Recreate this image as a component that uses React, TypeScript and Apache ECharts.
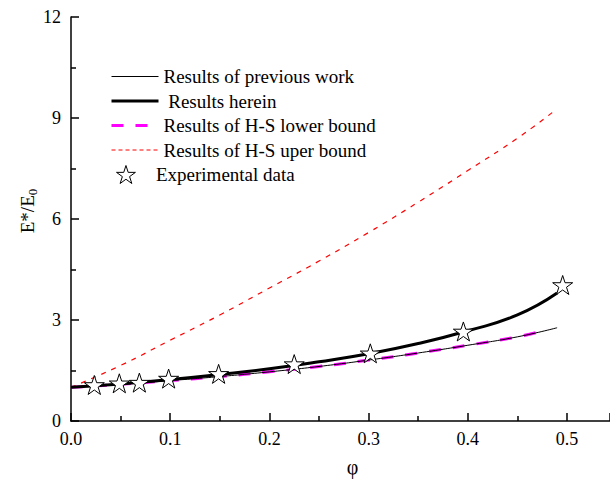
import React, { useEffect, useRef } from "react";
import * as echarts from "echarts";

// ---- data ----
const phiGrid = [0, 0.05, 0.1, 0.15, 0.2, 0.25, 0.3, 0.35, 0.4, 0.45, 0.49];
const previousWork = [1.0, 1.09, 1.2, 1.32, 1.46, 1.62, 1.81, 2.02, 2.25, 2.5, 2.77];
const herein = [1.0, 1.1, 1.23, 1.38, 1.55, 1.76, 2.0, 2.3, 2.68, 3.15, 3.8];

const phiLower = [0, 0.05, 0.1, 0.15, 0.2, 0.25, 0.3, 0.35, 0.4, 0.45, 0.48];
const lowerBound = [1.0, 1.09, 1.2, 1.32, 1.46, 1.62, 1.81, 2.02, 2.25, 2.5, 2.71];

const phiUpper = [0, 0.05, 0.1, 0.15, 0.2, 0.25, 0.3, 0.35, 0.4, 0.45, 0.485];
const upperBound = [1.0, 1.65, 2.4, 3.15, 3.95, 4.75, 5.6, 6.5, 7.44, 8.4, 9.16];

const expPhi = [0.0235, 0.0487, 0.0689, 0.0984, 0.1488, 0.225, 0.3017, 0.3955, 0.4956];
const expE = [1.07, 1.12, 1.14, 1.26, 1.4, 1.69, 2.01, 2.66, 4.04];

const seriesNames = [
  "Results of previous work",
  " Results herein",
  "Results of H-S lower bound",
  "Results of H-S uper bound",
  "Experimental data",
];

const STAR =
  "path://M50,0 L61.2,34.5 L97.6,34.5 L68.2,55.9 L79.4,90.5 L50,69.1 L20.6,90.5 L31.8,55.9 L2.4,34.5 L38.8,34.5 Z";

const FONT = "'Liberation Serif', 'Times New Roman', serif";

const zip = (xs: number[], ys: number[]) => xs.map((x, i) => [x, ys[i]]);

export default function App() {
  const ref = useRef<HTMLDivElement>(null);

  useEffect(() => {
    document.body.style.margin = "0";
    if (!ref.current) return;
    const chart = echarts.init(ref.current, undefined, { renderer: "svg" });
    chart.setOption({
      animation: false,
      backgroundColor: "#ffffff",
      textStyle: { fontFamily: FONT, color: "#000" },
      grid: { left: 71, top: 17, right: 0, bottom: 61, containLabel: false },
      legend: [
        {
          data: [
            { name: seriesNames[0], lineStyle: { color: "#000", width: 1 } },
            { name: seriesNames[1], lineStyle: { color: "#000", width: 3 } },
            { name: seriesNames[2], lineStyle: { color: "#ff00ff", width: 3, type: [12, 12] } },
            { name: seriesNames[3], lineStyle: { color: "#ff0000", width: 1, type: [4, 3] } },
          ],
          orient: "vertical",
          left: 110,
          top: 67,
          padding: 0,
          itemWidth: 47,
          itemHeight: 14,
          itemGap: 5.5,
          itemStyle: { opacity: 0 },
          textStyle: { fontFamily: FONT, fontSize: 19, color: "#000" },
          selectedMode: false,
        },
        {
          data: [seriesNames[4]],
          orient: "vertical",
          left: 116,
          top: 165,
          padding: 0,
          itemWidth: 24,
          itemHeight: 18,
          itemStyle: { color: "#fff", borderColor: "#000", borderWidth: 1, opacity: 1 },
          textStyle: { fontFamily: FONT, fontSize: 19, color: "#000", padding: [0, 0, 0, 13] },
          selectedMode: false,
        },
      ],
      graphic: [
        {
          type: "text",
          x: 27,
          y: 211,
          rotation: Math.PI / 2,
          style: {
            text: "{a|E*/E}{s|0}",
            align: "center",
            verticalAlign: "middle",
            fill: "#000",
            rich: {
              a: { fontFamily: FONT, fontSize: 19, fill: "#000" },
              s: { fontFamily: FONT, fontSize: 13, fill: "#000", verticalAlign: "bottom", padding: [10, 0, 0, 0] },
            },
          },
        },
      ],
      xAxis: {
        type: "value",
        min: 0,
        max: 0.5433,
        interval: 0.1,
        name: "\u03c6",
        nameLocation: "middle",
        nameGap: 36,
        nameTextStyle: { fontFamily: FONT, fontSize: 20, color: "#000", padding: [0, 0, 0, 24] },
        axisLine: { show: true, lineStyle: { color: "#000", width: 1.5 } },
        axisTick: { show: true, inside: true, length: 8, lineStyle: { color: "#000", width: 1.5 } },
        minorTick: { show: true, splitNumber: 2, length: 5, lineStyle: { color: "#000", width: 1.5 } },
        axisLabel: {
          fontFamily: FONT,
          fontSize: 18,
          color: "#000",
          margin: 9,
          showMaxLabel: false,
          formatter: (v: number) => v.toFixed(1),
        },
        splitLine: { show: false },
      },
      yAxis: {
        type: "value",
        min: 0,
        max: 12,
        interval: 3,
        axisLine: { show: true, lineStyle: { color: "#000", width: 1.5 } },
        axisTick: { show: true, inside: true, length: 8, lineStyle: { color: "#000", width: 1.5 } },
        minorTick: { show: true, splitNumber: 2, length: 5, lineStyle: { color: "#000", width: 1.5 } },
        axisLabel: { fontFamily: FONT, fontSize: 18, color: "#000", margin: 10 },
        splitLine: { show: false },
      },
      series: [
        {
          name: seriesNames[0],
          type: "line",
          data: zip(phiGrid, previousWork),
          smooth: true,
          symbol: "none",
          lineStyle: { color: "#000", width: 1 },
          itemStyle: { color: "#000" },
          z: 3,
        },
        {
          name: seriesNames[1],
          type: "line",
          data: zip(phiGrid, herein),
          smooth: true,
          symbol: "none",
          lineStyle: { color: "#000", width: 3 },
          itemStyle: { color: "#000" },
          z: 4,
        },
        {
          name: seriesNames[2],
          type: "line",
          data: zip(phiLower, lowerBound),
          smooth: true,
          symbol: "none",
          lineStyle: { color: "#ff00ff", width: 3, type: [12, 12] },
          itemStyle: { color: "#ff00ff" },
          z: 2,
        },
        {
          name: seriesNames[3],
          type: "line",
          data: zip(phiUpper, upperBound),
          smooth: true,
          symbol: "none",
          lineStyle: { color: "#ff0000", width: 1.2, type: [5, 6] },
          itemStyle: { color: "#ff0000" },
          z: 2,
        },
        {
          name: seriesNames[4],
          type: "scatter",
          data: zip(expPhi, expE),
          symbol: STAR,
          symbolSize: 20,
          symbolKeepAspect: true,
          itemStyle: { color: "#fff", borderColor: "#000", borderWidth: 1, opacity: 1 },
          z: 5,
        },
      ],
    });
    return () => chart.dispose();
  }, []);

  return <div ref={ref} style={{ width: 610, height: 482 }} />;
}
